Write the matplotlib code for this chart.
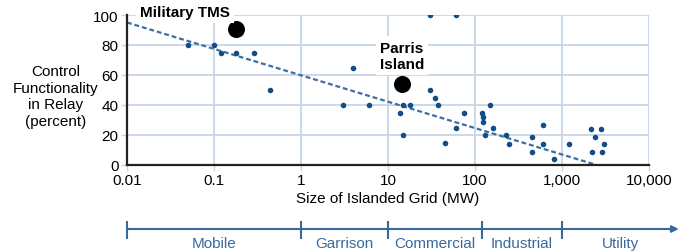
import numpy as np
import matplotlib
matplotlib.use("Agg")
import matplotlib.pyplot as plt

plt.rcParams['font.family'] = ['Liberation Sans', 'DejaVu Sans']

# islanded grid size (MW) vs control functionality (percent)
grid_mw = [0.05, 0.1, 0.12, 0.18, 0.29, 0.44,
           3.0, 4.0, 6.0,
           13.7, 15, 15, 18,
           30, 60,
           30, 35, 38, 45, 60, 75,
           119, 122, 123, 130, 150, 160,
           227, 244, 452, 452, 600, 600, 809, 1213,
           2137, 2787, 2416, 3040, 2230, 2850]
control_pct = [80, 80, 75, 75, 75, 50,
               40, 65, 40,
               35, 40, 20, 40,
               100, 100,
               50, 45, 40, 15, 25, 35,
               35, 32, 29, 20, 40, 25,
               20, 14, 19, 9, 27, 14, 4, 14,
               24, 24, 19, 14, 9, 9]

# highlighted sites
site_names = ["Military TMS", "Parris\nIsland"]
site_mw = [0.18, 14.6]
site_pct = [91, 54]
site_label_x = [0.046, 14.5]
site_label_y = [102, 72.7]

# trend line
trend_mw = [0.01, 2500]
trend_pct = [95, 0]

x_ticks = [0.01, 0.1, 1, 10, 100, 1000, 10000]
x_labels = ["0.01", "0.1", "1", "10", "100", "1,000", "10,000"]
y_ticks = [0, 20, 40, 60, 80, 100]

categories = ["Mobile", "Garrison", "Commercial", "Industrial", "Utility"]
bounds = [0.01, 1, 10, 120, 1000, 22000]

point_color = "#124d87"
trend_color = "#3d6fa5"
grid_color = "#c6d6e7"
band_color = "#3a6a9c"

fig = plt.figure(figsize=(6.84, 2.53), dpi=100)
W, H = 684, 253
ax = fig.add_axes([127 / W, 1 - 166 / H, 522 / W, 150 / H])

ax.set_xscale("log")
ax.set_xlim(0.01, 10000)
ax.set_ylim(0, 100)
ax.set_axisbelow(True)
ax.grid(True, which="major", color=grid_color, linewidth=1.3)
ax.minorticks_off()
ax.set_xticks(x_ticks)
ax.set_xticklabels(x_labels)
ax.set_yticks(y_ticks)
ax.tick_params(labelsize=11, color=grid_color, length=4, width=1, pad=2)
for s in ["top", "right"]:
    ax.spines[s].set_visible(False)
for s in ["left", "bottom"]:
    ax.spines[s].set_linewidth(1.6)
    ax.spines[s].set_color("#222222")

ax.plot(trend_mw, trend_pct, color=trend_color, linewidth=1.6,
        linestyle=(0, (2.2, 1.3)), zorder=2)
ax.scatter(grid_mw, control_pct, s=16, color=point_color, zorder=3, linewidths=0)
ax.scatter(site_mw, site_pct, s=150, color="black", zorder=4, linewidths=0)

for name, lx, ly in zip(site_names, site_label_x, site_label_y):
    ax.text(lx, ly, name, ha="center", va="center", fontsize=11,
            fontweight="bold", linespacing=1.25, zorder=5, clip_on=False,
            bbox=dict(facecolor="white", edgecolor="none", pad=3))

ax.set_xlabel("Size of Islanded Grid (MW)", fontsize=11, labelpad=3)
ax.set_ylabel("Control\nFunctionality\nin Relay\n(percent)", fontsize=11,
              rotation=0, ha="center", va="center", linespacing=1.25)
ax.yaxis.set_label_coords(-0.136, 0.46)

# category band below the chart
band = fig.add_axes([127 / W, 0, 522 / W, 38 / H])
band.set_xscale("log")
band.set_xlim(0.01, 10000)
band.set_ylim(0, 38)
band.axis("off")
band.annotate("", xy=(bounds[-1], 23), xytext=(bounds[0], 23),
              arrowprops=dict(arrowstyle="-|>", color=band_color, lw=1.5,
                              mutation_scale=10, shrinkA=0, shrinkB=0),
              annotation_clip=False)
band.vlines(bounds[:-1], 13, 31, color=band_color, linewidth=1.5, clip_on=False)
for i, cat in enumerate(categories):
    mid = np.sqrt(bounds[i] * bounds[i + 1])
    band.text(mid, 9, cat, ha="center", va="center", fontsize=11,
              color=band_color, clip_on=False)

fig.savefig("out.png", dpi=100)
